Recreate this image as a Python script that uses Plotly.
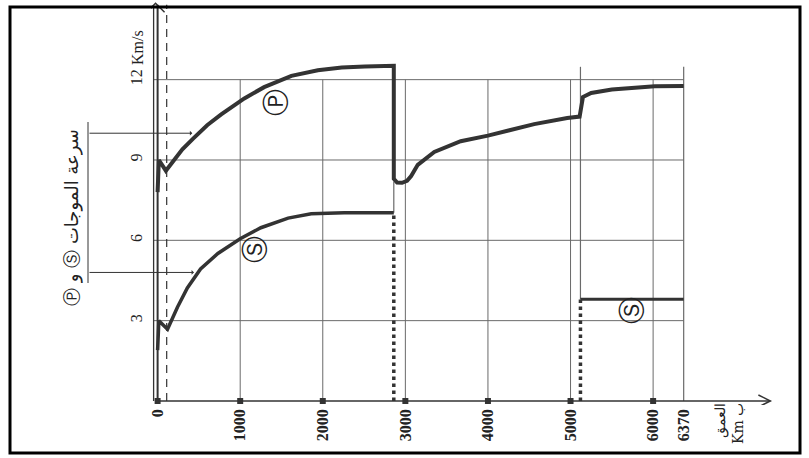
import plotly.graph_objects as go

# ---------------- data ----------------
p_depth = [0, 15, 100, 200, 300, 430, 600, 770, 1050, 1290, 1620, 1940, 2230, 2510, 2860,
           2860, 2900, 2960, 3020, 3070, 3150, 3350, 3670, 4000, 4560, 4960, 5110,
           5150, 5250, 5500, 5740, 6020, 6370]
p_vel = [7.8, 9.0, 8.6, 9.0, 9.4, 9.8, 10.3, 10.7, 11.3, 11.72, 12.14, 12.35, 12.45, 12.49, 12.52,
         8.3, 8.16, 8.15, 8.22, 8.4, 8.82, 9.3, 9.7, 9.91, 10.34, 10.57, 10.62,
         11.35, 11.5, 11.63, 11.7, 11.75, 11.76]

s_mantle_depth = [0, 15, 120, 240, 360, 520, 730, 1000, 1250, 1580, 1860, 2260, 2860]
s_mantle_vel = [1.9, 3.0, 2.68, 3.5, 4.22, 4.93, 5.51, 6.06, 6.47, 6.83, 6.99, 7.03, 7.03]

s_inner_depth = [5120, 6370]
s_inner_vel = [3.8, 3.8]

cmb_depth = 2860          # core–mantle boundary
icb_depth = 5120          # inner-core boundary
earth_radius = 6370
lithosphere_depth = 110
boundary_top = 12.48

x_ticks = [0, 1000, 2000, 3000, 4000, 5000, 6000, 6370]
x_ticklabels = ["0", "1000", "2000", "3000", "4000", "5000", "6000", "6370"]
grid_depths = [1000, 2000, 3000, 4000, 5000, 6000]
square_depths = [0, 1000, 2000, 3000, 4000, 5000, 6000]
y_ticks = [3, 6, 9, 12]
y_ticklabels = ["3", "6", "9", "12"]

title_text = "Ⓟ و Ⓢ سرعة الموجات"
depth_label = "العمق<br>Km ب"
unit_label = "Km/s"

labels = [("Ⓟ", 1430, 11.14), ("Ⓢ", 1180, 5.64), ("Ⓢ", 5740, 3.39)]
bracket_arrows = [(420, 10.0), (440, 4.8)]

# ---------------- layout geometry ----------------
W, H = 809, 458
L, R, T, B = 151, 32, 2, 53
PW, PH = W - L - R, H - T - B
X_RANGE = [-80, 7500]
Y_RANGE = [-0.15, 14.9]


def px(xp):
    return (xp - L) / PW


def py(yp):
    return (H - B - yp) / PH


INK = "#333333"
GRID = "#6a6a6a"
SERIF = "Liberation Serif, Times New Roman, serif"

fig = go.Figure()

fig.add_trace(go.Scatter(x=p_depth, y=p_vel, mode="lines",
                         line=dict(color=INK, width=4), hoverinfo="skip"))
fig.add_trace(go.Scatter(x=s_mantle_depth, y=s_mantle_vel, mode="lines",
                         line=dict(color=INK, width=3.5), hoverinfo="skip"))
fig.add_trace(go.Scatter(x=s_inner_depth, y=s_inner_vel, mode="lines",
                         line=dict(color=INK, width=3), hoverinfo="skip"))
fig.add_trace(go.Scatter(x=[cmb_depth, cmb_depth], y=[0, s_mantle_vel[-1]], mode="lines",
                         line=dict(color=INK, width=3.5, dash="dot"), hoverinfo="skip"))
fig.add_trace(go.Scatter(x=[icb_depth, icb_depth], y=[0, s_inner_vel[0]], mode="lines",
                         line=dict(color=INK, width=3.5, dash="dot"), hoverinfo="skip"))
fig.add_trace(go.Scatter(x=square_depths, y=[0] * len(square_depths), mode="markers",
                         marker=dict(symbol="square", size=6, color=INK), hoverinfo="skip"))

shapes = []
for v in y_ticks:
    shapes.append(dict(type="line", xref="x", yref="y", x0=-50, x1=earth_radius, y0=v, y1=v,
                       line=dict(color=GRID, width=1), layer="below"))
for d in grid_depths:
    shapes.append(dict(type="line", xref="x", yref="y", x0=d, x1=d, y0=0, y1=12,
                       line=dict(color=GRID, width=1), layer="below"))
shapes.append(dict(type="line", xref="x", yref="y", x0=earth_radius, x1=earth_radius,
                   y0=0, y1=boundary_top, line=dict(color=GRID, width=1.2), layer="below"))
shapes.append(dict(type="line", xref="x", yref="y", x0=icb_depth, x1=icb_depth,
                   y0=s_inner_vel[0], y1=boundary_top, line=dict(color=GRID, width=1.2), layer="below"))
shapes.append(dict(type="line", xref="x", yref="y", x0=cmb_depth, x1=cmb_depth,
                   y0=s_mantle_vel[-1], y1=8.2, line=dict(color=GRID, width=1.2), layer="below"))
shapes.append(dict(type="line", xref="x", yref="y", x0=lithosphere_depth, x1=lithosphere_depth,
                   y0=0, y1=14.8, line=dict(color=INK, width=1.2, dash="8px,6px")))
# y axis (double line) and arrow
shapes.append(dict(type="line", xref="x", yref="y", x0=0, x1=0, y0=0, y1=14.8,
                   line=dict(color=INK, width=2)))
shapes.append(dict(type="line", xref="x", yref="y", xsizemode="pixel", xanchor=0,
                   x0=-4, x1=-4, y0=0, y1=14.7, line=dict(color=INK, width=1.3)))
shapes.append(dict(type="path", xref="x", yref="y", xsizemode="pixel", ysizemode="pixel",
                   xanchor=-25, yanchor=14.85, path="M -9,-9 L 0,0 L 9,-9",
                   line=dict(color=INK, width=1.5)))
# x axis and arrow
shapes.append(dict(type="line", xref="x", yref="y", x0=0, x1=7420, y0=0, y1=0,
                   line=dict(color=INK, width=1.5)))
shapes.append(dict(type="path", xref="x", yref="y", xsizemode="pixel", ysizemode="pixel",
                   xanchor=7420, yanchor=0, path="M -12,6 L 0,0 L -12,-6",
                   line=dict(color=INK, width=1.5)))
# bracket line near the title
shapes.append(dict(type="line", xref="paper", yref="paper", x0=px(88), x1=px(88),
                   y0=py(122), y1=py(283), line=dict(color=INK, width=1)))
# frame
shapes.append(dict(type="rect", xref="paper", yref="paper", x0=px(10), x1=px(800),
                   y0=py(453), y1=py(7), line=dict(color="black", width=3)))

annotations = []
annotations.append(dict(text=title_text, xref="paper", yref="paper", x=px(72), y=py(218),
                        xanchor="center", yanchor="middle",
                        textangle=-90, showarrow=False,
                        font=dict(family="DejaVu Sans", size=18, color="#222")))
annotations.append(dict(text=unit_label, xref="paper", yref="paper", x=px(138), y=py(48),
                        xanchor="center", yanchor="middle",
                        textangle=-90, showarrow=False,
                        font=dict(family=SERIF, size=16, color="#222")))
annotations.append(dict(text=depth_label, xref="paper", yref="paper", x=px(729), y=py(424),
                        xanchor="center", yanchor="middle",
                        textangle=-90, showarrow=False, align="right",
                        font=dict(family="DejaVu Serif, Liberation Serif, serif", size=14, color="#222")))
for txt, d, v in labels:
    annotations.append(dict(text=txt, x=d, y=v, xref="x", yref="y", showarrow=False,
                            xanchor="center", yanchor="middle",
                            textangle=-90, font=dict(family="DejaVu Sans", size=27, color="#222")))
for d, v in bracket_arrows:
    tip_px = L + (d - X_RANGE[0]) / (X_RANGE[1] - X_RANGE[0]) * PW
    annotations.append(dict(text="", x=d, y=v, xref="x", yref="y", showarrow=True,
                            ax=88 - tip_px, ay=0,
                            arrowhead=1, arrowsize=0.8, arrowwidth=1, arrowcolor=INK))

fig.update_layout(
    width=W, height=H, autosize=False,
    margin=dict(l=L, r=R, t=T, b=B, autoexpand=False),
    paper_bgcolor="white", plot_bgcolor="white",
    showlegend=False,
    shapes=shapes, annotations=annotations,
    xaxis=dict(range=X_RANGE, showgrid=False, zeroline=False, showline=False, automargin=False,
               tickmode="array", tickvals=x_ticks, ticktext=x_ticklabels, tickangle=-90,
               ticks="", tickfont=dict(family=SERIF, size=16, color="#222", weight="bold")),
    yaxis=dict(range=Y_RANGE, showgrid=False, zeroline=False, showline=False, automargin=False,
               tickmode="array", tickvals=y_ticks, ticktext=y_ticklabels, tickangle=-90,
               ticks="", ticklabelstandoff=5, tickfont=dict(family=SERIF, size=16, color="#222")),
)

fig.write_html("out.html", config={"displayModeBar": False},
               post_script="document.body.style.margin='0';")
